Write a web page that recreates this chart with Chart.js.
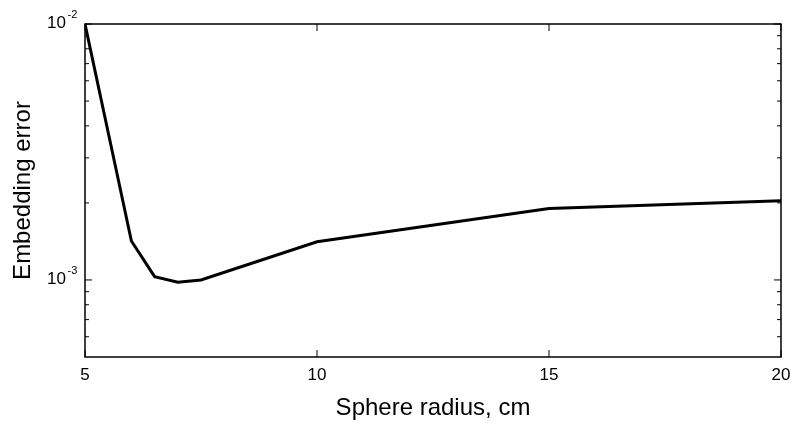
<!DOCTYPE html>
<html>
<head>
<meta charset="utf-8">
<script src="https://cdn.jsdelivr.net/npm/chart.js@4.4.1/dist/chart.umd.min.js"></script>
<style>
    html, body { margin: 0; padding: 0; background: #fff; }
</style>
</head>
<body>
<canvas id="chart" width="795" height="425"></canvas>
<script>
const radius = [5, 6, 6.5, 7, 7.5, 10, 15, 20];
const embeddingError = [0.0100, 0.00142, 0.00103, 0.00098, 0.00100, 0.00141, 0.00190, 0.00204];

const xTicks = [5, 10, 15, 20];
const yMajorTicks = [0.01, 0.001];
const yTickExponents = ["-2", "-3"];
const yMinorTicks = [0.009, 0.008, 0.007, 0.006, 0.005, 0.004, 0.003, 0.002, 0.0009, 0.0008, 0.0007, 0.0006];

const FONT = '"Liberation Sans", Arial, Helvetica, sans-serif';

// box, inward ticks on all sides and 10^n labels
const framePlugin = {
    id: "frame",
    afterDraw(chart) {
        const { ctx, chartArea: a, scales: { x, y } } = chart;
        ctx.save();
        ctx.strokeStyle = "#000";
        ctx.lineWidth = 1;
        ctx.beginPath();
        xTicks.forEach(v => {
            const px = x.getPixelForValue(v);
            ctx.moveTo(px, a.bottom); ctx.lineTo(px, a.bottom - 7);
            ctx.moveTo(px, a.top); ctx.lineTo(px, a.top + 7);
        });
        yMajorTicks.forEach(v => {
            const py = y.getPixelForValue(v);
            ctx.moveTo(a.left, py); ctx.lineTo(a.left + 7, py);
            ctx.moveTo(a.right, py); ctx.lineTo(a.right - 7, py);
        });
        yMinorTicks.forEach(v => {
            const py = y.getPixelForValue(v);
            ctx.moveTo(a.left, py); ctx.lineTo(a.left + 4, py);
            ctx.moveTo(a.right, py); ctx.lineTo(a.right - 4, py);
        });
        ctx.stroke();

        ctx.lineWidth = 1.5;
        ctx.strokeRect(a.left, a.top, a.right - a.left, a.bottom - a.top);

        ctx.fillStyle = "#000";
        ctx.textBaseline = "alphabetic";
        yMajorTicks.forEach((v, i) => {
            const py = y.getPixelForValue(v);
            ctx.font = "17px " + FONT;
            ctx.textAlign = "right";
            ctx.fillText("10", a.left - 19, py + 4);
            ctx.font = "11px " + FONT;
            ctx.textAlign = "left";
            ctx.fillText(yTickExponents[i], a.left - 17.5, py - 6);
        });
        ctx.restore();
    }
};

new Chart(document.getElementById("chart"), {
    type: "line",
    data: {
        datasets: [{
            data: radius.map((r, i) => ({ x: r, y: embeddingError[i] })),
            borderColor: "#000",
            borderWidth: 3,
            pointRadius: 0,
            tension: 0,
            fill: false
        }]
    },
    options: {
        responsive: false,
        animation: false,
        layout: { padding: { top: 24, right: 14, left: 0, bottom: 0 } },
        plugins: { legend: { display: false }, tooltip: { enabled: false } },
        scales: {
            x: {
                type: "linear",
                min: 5,
                max: 20,
                afterBuildTicks: s => { s.ticks = xTicks.map(v => ({ value: v })); },
                afterFit: s => { s.height = 68; s.paddingLeft = 0; s.paddingRight = 0; },
                ticks: { color: "#000", font: { family: FONT, size: 17 }, padding: 8, maxRotation: 0, autoSkip: false },
                grid: { display: false, drawTicks: false },
                border: { display: false },
                title: {
                    display: true,
                    text: "Sphere radius, cm",
                    color: "#000",
                    font: { family: FONT, size: 24 },
                    padding: { top: 0, bottom: 2 }
                }
            },
            y: {
                type: "logarithmic",
                min: 0.0005,
                max: 0.01,
                afterFit: s => { s.width = 85; },
                ticks: { display: false },
                grid: { display: false, drawTicks: false },
                border: { display: false },
                title: {
                    display: true,
                    text: "Embedding error",
                    color: "#000",
                    font: { family: FONT, size: 24 },
                    padding: { top: 9, bottom: 0 }
                }
            }
        }
    },
    plugins: [framePlugin]
});
</script>
</body>
</html>
